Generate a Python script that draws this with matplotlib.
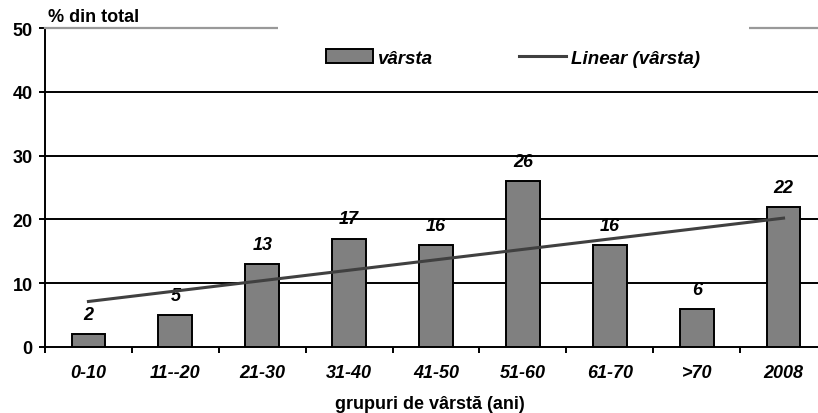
import numpy as np
import matplotlib
matplotlib.use("Agg")
import matplotlib.pyplot as plt
from matplotlib.patches import Rectangle, Patch
from matplotlib.lines import Line2D

categories = ["0-10", "11--20", "21-30", "31-40", "41-50", "51-60", "61-70", ">70", "2008"]
values = [2, 5, 13, 17, 16, 26, 16, 6, 22]
yticks = [0, 10, 20, 30, 40, 50]

plt.rcParams['font.family'] = ['Liberation Sans', 'DejaVu Sans']
FS = 13

W, H = 818, 414
fig = plt.figure(figsize=(W / 100, H / 100), dpi=100)
left, right, top, bottom = 45, 827, 29, 348
ax = fig.add_axes([left / W, 1 - bottom / H, (right - left) / W, (bottom - top) / H])

x = np.arange(len(categories))
ax.bar(x, values, width=0.39, color="#808080", edgecolor="black", linewidth=1.4, zorder=3)

for xi, v in zip(x, values):
    ax.annotate(str(v), (xi, v), xytext=(0, 8), textcoords="offset points",
                ha="center", va="bottom", fontsize=FS, fontweight="bold", fontstyle="italic")

coef = np.polyfit(x + 1, values, 1)
trend = np.polyval(coef, x + 1)
ax.plot([x[0], x[-1]], [trend[0], trend[-1]], color="#404040", linewidth=2.2, zorder=4)

ax.set_xlim(-0.5, len(categories) - 0.5)
ax.set_ylim(0, 50)
for yv in yticks[1:-1]:
    ax.axhline(yv, color="black", linewidth=1.4, zorder=1)

ax.spines["right"].set_visible(False)
ax.spines["top"].set_color("#999999")
ax.spines["top"].set_linewidth(1.6)
ax.spines["left"].set_linewidth(1.4)
ax.spines["bottom"].set_linewidth(1.4)

ax.set_yticks(yticks)
ax.set_yticklabels([str(t) for t in yticks], fontsize=FS, fontweight="bold")
ax.tick_params(axis="y", length=4, width=1.4, pad=5)
ax.set_xticks(x)
ax.set_xticklabels(categories, fontsize=FS, fontweight="bold", fontstyle="italic")
ax.tick_params(axis="x", which="major", length=0, pad=12)
ax.set_xticks(np.arange(len(categories)) - 0.5, minor=True)
ax.tick_params(axis="x", which="minor", length=4, width=1.4)

# white background behind legend covering top border
ax.add_patch(Rectangle((278, H - 85), 749 - 278, 75, transform=None,
                       facecolor="white", edgecolor="none", zorder=4.5, clip_on=False))

handles = [Patch(facecolor="#808080", edgecolor="black", linewidth=1.4),
           Line2D([0], [0], color="#404040", linewidth=2.2)]
leg = ax.legend(handles, ["vârsta", "Linear (vârsta)"], ncol=2, frameon=False,
                loc="center", bbox_to_anchor=(513 / W, 1 - 59 / H), bbox_transform=fig.transFigure,
                prop={"weight": "bold", "style": "italic", "size": 13.5},
                handlelength=2.5, handleheight=0.75, handletextpad=0.27, columnspacing=4.6)

fig.text(48 / W, 1 - 18 / H, "% din total", fontsize=FS, fontweight="bold", va="center", ha="left")
fig.text(430 / W, 1 - 405 / H, "grupuri de vârstă (ani)", fontsize=FS, fontweight="bold",
         va="center", ha="center")

fig.savefig("out.png", dpi=100)
